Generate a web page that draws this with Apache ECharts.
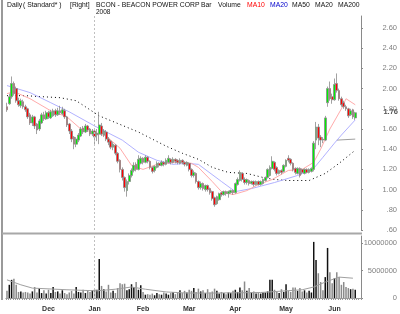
<!DOCTYPE html>
<html><head><meta charset="utf-8">
<script src="https://cdn.jsdelivr.net/npm/echarts@6/dist/echarts.min.js"></script>
<style>html,body{margin:0;padding:0;background:#fff}#c{width:400px;height:314px}</style>
</head><body><div id="c"></div>
<script>
// ---- data ----
const holidays = ['2007-11-22','2007-12-25','2008-01-01','2008-01-21','2008-02-18','2008-03-21','2008-05-26'];
const startDate = '2007-11-06', endDate = '2008-06-13';
const monthNames = ['Jan','Feb','Mar','Apr','May','Jun','Jul','Aug','Sep','Oct','Nov','Dec'];
const priceTicks = [0.6,0.8,1.0,1.2,1.4,1.6,1.8,2.0,2.2,2.4,2.6];
const volumeTicks = [0,5000000,10000000];
// [open, close, low, high]
const candles = [
[1.82,1.79,1.77,1.86],[1.85,1.92,1.84,1.95],[1.92,2.05,1.90,2.12],[2.05,1.95,1.93,2.07],[2.00,1.88,1.86,2.02],
[1.88,1.84,1.82,1.91],[1.83,1.88,1.81,1.90],[1.87,1.82,1.80,1.89],[1.82,1.79,1.77,1.84],[1.80,1.72,1.70,1.81],
[1.74,1.66,1.64,1.76],[1.66,1.72,1.63,1.74],[1.72,1.63,1.60,1.73],[1.65,1.59,1.55,1.66],[1.60,1.68,1.58,1.70],
[1.66,1.74,1.65,1.76],[1.74,1.70,1.68,1.77],[1.70,1.76,1.69,1.78],[1.76,1.72,1.70,1.78],[1.71,1.77,1.70,1.79],
[1.73,1.78,1.72,1.80],[1.78,1.74,1.72,1.80],[1.74,1.78,1.73,1.81],[1.78,1.76,1.74,1.83],[1.75,1.79,1.74,1.82],
[1.78,1.72,1.70,1.80],[1.72,1.64,1.62,1.73],[1.65,1.58,1.55,1.66],[1.58,1.50,1.47,1.60],[1.52,1.45,1.40,1.53],
[1.45,1.50,1.42,1.52],[1.49,1.54,1.47,1.56],[1.53,1.60,1.52,1.62],[1.61,1.57,1.55,1.63],[1.57,1.63,1.56,1.65],
[1.63,1.59,1.57,1.64],[1.60,1.55,1.53,1.61],[1.55,1.58,1.53,1.60],[1.58,1.52,1.44,1.59],[1.54,1.56,1.48,1.60],
[1.55,1.64,1.45,1.77],[1.63,1.55,1.53,1.66],[1.54,1.58,1.52,1.60],[1.57,1.50,1.48,1.59],[1.50,1.47,1.44,1.52],
[1.48,1.42,1.40,1.49],[1.42,1.45,1.39,1.47],[1.44,1.36,1.34,1.45],[1.36,1.28,1.26,1.37],[1.29,1.20,1.17,1.30],
[1.20,1.12,1.09,1.22],[1.12,1.02,0.98,1.13],[0.99,1.08,0.93,1.10],[1.08,1.14,1.05,1.16],[1.14,1.19,1.12,1.21],
[1.19,1.24,1.17,1.27],[1.25,1.20,1.18,1.27],[1.20,1.30,1.19,1.34],[1.26,1.31,1.25,1.33],[1.31,1.27,1.25,1.32],
[1.27,1.32,1.26,1.34],[1.32,1.28,1.26,1.33],[1.28,1.22,1.20,1.29],[1.22,1.18,1.16,1.23],[1.19,1.23,1.17,1.24],
[1.22,1.26,1.21,1.28],[1.26,1.24,1.22,1.27],[1.24,1.27,1.23,1.29],[1.27,1.25,1.23,1.28],[1.25,1.29,1.24,1.31],
[1.27,1.31,1.26,1.34],[1.30,1.27,1.25,1.31],[1.27,1.30,1.26,1.32],[1.30,1.28,1.26,1.31],[1.29,1.27,1.25,1.30],
[1.26,1.29,1.25,1.31],[1.29,1.27,1.25,1.30],[1.27,1.25,1.23,1.28],[1.24,1.27,1.23,1.28],[1.26,1.20,1.18,1.27],
[1.20,1.14,1.12,1.21],[1.14,1.17,1.12,1.19],[1.16,1.08,1.06,1.17],[1.08,1.02,1.00,1.09],[1.02,1.06,1.00,1.08],
[1.06,1.01,0.99,1.07],[1.00,1.04,0.98,1.05],[1.04,1.00,0.98,1.05],[1.01,0.97,0.95,1.02],[0.98,0.91,0.89,0.99],
[0.92,0.85,0.83,0.93],[0.86,0.93,0.85,0.94],[0.90,0.96,0.89,0.97],[0.97,0.95,0.93,0.98],[0.95,0.98,0.94,0.99],
[0.98,0.96,0.94,0.99],[0.96,0.98,0.92,0.99],[0.97,0.99,0.96,1.00],[0.99,0.97,0.95,1.00],[0.97,1.06,0.96,1.07],
[1.05,1.10,1.04,1.12],[1.09,1.17,1.08,1.19],[1.16,1.10,1.08,1.17],[1.10,1.07,1.05,1.12],[1.07,1.10,1.05,1.11],
[1.09,1.06,1.04,1.10],[1.06,1.08,1.05,1.09],[1.08,1.05,1.03,1.09],[1.05,1.08,1.04,1.09],[1.08,1.05,1.04,1.09],
[1.05,1.08,1.04,1.09],[1.06,1.10,1.05,1.11],[1.09,1.12,1.08,1.13],[1.12,1.20,1.11,1.21],[1.14,1.22,1.13,1.24],
[1.21,1.28,1.20,1.33],[1.27,1.20,1.18,1.28],[1.22,1.16,1.14,1.23],[1.16,1.19,1.15,1.20],[1.19,1.17,1.15,1.20],
[1.18,1.24,1.17,1.25],[1.23,1.29,1.22,1.30],[1.31,1.29,1.27,1.34],[1.30,1.26,1.24,1.31],[1.26,1.20,1.18,1.27],
[1.21,1.17,1.15,1.22],[1.16,1.21,1.15,1.22],[1.21,1.14,1.12,1.22],[1.20,1.17,1.15,1.21],[1.16,1.20,1.15,1.21],
[1.20,1.17,1.16,1.21],[1.17,1.20,1.16,1.21],[1.18,1.21,1.17,1.22],[1.20,1.46,1.18,1.48],[1.49,1.62,1.40,1.67],
[1.62,1.51,1.44,1.65],[1.52,1.49,1.42,1.54],[1.50,1.49,1.46,1.52],[1.49,1.71,1.48,1.73],[1.86,2.00,1.82,2.02],
[2.00,1.90,1.88,2.07],[1.92,1.89,1.85,1.95],[1.89,2.04,1.88,2.10],[2.05,1.98,1.96,2.15],[1.98,1.90,1.88,2.00],
[1.90,1.84,1.82,1.92],[1.86,1.82,1.80,1.88],[1.82,1.80,1.78,1.84],[1.80,1.73,1.71,1.81],[1.74,1.78,1.73,1.80],
[1.79,1.72,1.70,1.80],[1.71,1.76,1.69,1.77]
];
// volume in millions of shares
const volumeM = [
1.3,2.4,3.3,3.5,2.4,1.1,1.2,1.0,1.1,1.0,0.8,1.2,2.0,1.0,1.8,0.9,1.4,0.8,
1.5,0.9,2.0,1.1,1.2,0.8,1.4,0.9,0.7,1.0,1.3,0.8,2.0,1.1,1.0,1.5,0.9,1.3,1.1,1.4,
1.6,1.5,7.1,2.2,1.6,1.2,2.4,1.0,1.3,0.9,1.8,2.7,2.5,2.6,1.4,1.6,2.5,2.0,2.9,1.5,2.3,
1.1,0.6,0.7,0.6,0.8,0.5,0.9,0.7,0.6,1.0,0.8,0.6,0.9,1.1,0.7,1.0,1.4,0.9,1.3,1.0,
1.5,1.3,1.8,1.1,1.7,1.2,1.4,0.9,1.6,1.0,1.2,1.7,1.3,0.8,1.1,0.9,0.7,1.0,0.9,1.3,
1.5,1.1,1.9,1.4,3.0,1.3,1.8,1.0,1.2,0.8,0.9,0.8,1.0,1.0,1.2,3.3,3.3,1.5,1.1,0.9,1.6,1.1,
2.5,1.3,1.1,1.9,1.9,1.3,1.8,1.2,1.4,1.0,1.3,1.0,10.2,6.9,4.5,2.9,1.4,3.8,9.1,4.7,2.7,
3.6,4.7,3.8,2.4,2.9,2.0,1.8,1.6,1.7,1.5
];
// moving averages: [bar index, value]
const ma10 = [[0,1.95],[3,1.97],[10,1.90],[19,1.78],[26,1.72],[32,1.60],[37,1.57],[43,1.53],[49,1.41],[54,1.24],[59,1.20],[65,1.25],[73,1.27],[80,1.26],[83,1.22],[89,1.08],[93,0.98],[98,0.95],[104,0.99],[109,1.05],[115,1.10],[122,1.19],[128,1.20],[133,1.27],[136,1.40],[140,1.60],[145,1.80],[147,1.90],[151,1.84]];
const ma20 = [[0,2.03],[10,1.96],[19,1.86],[27,1.77],[38,1.63],[50,1.49],[57,1.37],[65,1.29],[72,1.25],[78,1.26],[83,1.25],[93,1.08],[99,0.98],[106,1.01],[116,1.07],[126,1.14],[133,1.21],[137,1.32],[142,1.46],[145,1.54],[151,1.69]];
const ma50 = [[0,1.93],[8,1.93],[15,1.92],[23,1.91],[30,1.88],[40,1.73],[57,1.57],[69,1.43],[76,1.36],[83,1.30],[89,1.22],[96,1.17],[104,1.16],[111,1.12],[116,1.10],[122,1.09],[131,1.09],[138,1.16],[144,1.26],[151,1.39]];
const ma200 = [[143,1.49],[151,1.50]];
const volMa20M = [[0,3.3],[6,2.4],[11,1.8],[26,1.5],[39,1.3],[47,1.6],[54,2.0],[60,1.6],[69,1.1],[78,0.9],[90,0.9],[110,1.0],[128,1.5],[133,2.0],[138,2.9],[144,3.8],[150,3.6]];

// ---- trading-day categories ----
const dates = [];
(function(){
  let d = new Date(startDate + 'T00:00:00Z'); const e = new Date(endDate + 'T00:00:00Z');
  while (d <= e) {
    const s = d.toISOString().slice(0,10), wd = d.getUTCDay();
    if (wd !== 0 && wd !== 6 && holidays.indexOf(s) < 0) dates.push(s);
    d = new Date(d.getTime() + 86400000);
  }
})();
const cats = dates.concat(['pad1','pad2']);
const monthStart = new Set();
for (let i = 1; i < dates.length; i++) if (dates[i].slice(5,7) !== dates[i-1].slice(5,7)) monthStart.add(i);
const yearIdx = dates.indexOf('2008-01-02');

const volData = volumeM.map((v,i)=>({value: v*1e6, itemStyle:{color: candles[i][1] >= candles[i][0] ? '#111' : '#8a8a8a'}}));
const volMa = volMa20M.map(p=>[p[0], p[1]*1e6]);

const FONT = '"Liberation Sans", Arial, sans-serif';
const GL = 5.84, GR = 38;

const chart = echarts.init(document.getElementById('c'), null, {renderer:'canvas'});
const titleParts = [
  [7,'Daily','#111'],[23,'( Standard* )','#111'],[70,'[Right]','#111'],[96,'BCON - BEACON POWER CORP','#111'],
  [201,'Bar','#111'],[218,'Volume','#111'],[247,'MA10','#ff0000'],[270,'MA20','#0000cc'],
  [292,'MA50','#111'],[315,'MA20','#111'],[338,'MA200','#111']
];
const graphics = titleParts.map(p=>({type:'text', left:p[0], top:2, silent:true,
  style:{text:p[1], fill:p[2], font:'6.8px ' + FONT}}));
graphics.push({type:'text', left:96, top:9, silent:true, style:{text:'2008', fill:'#111', font:'6.5px ' + FONT}});
graphics.push({type:'rect', shape:{x:1,y:0,width:2,height:300}, style:{fill:'#9a9a9a'}, silent:true});
graphics.push({type:'rect', shape:{x:2,y:232.5,width:360,height:2}, style:{fill:'#a8a8a8'}, silent:true});

const axisLabelStyle = {color:'#808080', fontSize:7.5, fontFamily:FONT, align:'right', margin:36};

chart.setOption({
  animation:false,
  backgroundColor:'#fff',
  grid:[
    {left:GL, right:GR, top:16, height:214},
    {left:GL, right:GR, top:236, height:62}
  ],
  xAxis:[
    {type:'category', gridIndex:0, data:cats, boundaryGap:true, axisLine:{show:false}, axisTick:{show:false}, axisLabel:{show:false}, splitLine:{show:false}},
    {type:'category', gridIndex:1, data:cats, boundaryGap:true,
      axisLine:{show:true, lineStyle:{color:'#9a9a9a', width:1}},
      axisTick:{show:true, interval:0, length:2, lineStyle:{color:'#9a9a9a'}},
      axisLabel:{show:true, interval:(i)=>monthStart.has(i), formatter:(v)=>monthNames[+v.slice(5,7)-1],
        color:'#333', fontSize:7, fontWeight:'bold', fontFamily:FONT, margin:8},
      splitLine:{show:false}}
  ],
  yAxis:[
    {type:'value', gridIndex:0, position:'right', min:0.6, max:0.6+214/101, interval:0.2,
      axisLine:{show:true, lineStyle:{color:'#8a8a8a'}}, axisTick:{show:true, length:2, lineStyle:{color:'#8a8a8a'}},
      splitLine:{show:false},
      axisLabel:Object.assign({}, axisLabelStyle, {showMaxLabel:false, formatter:(v)=> v < 0.99 ? '.' + Math.round(v*100) : v.toFixed(2)})},
    {type:'value', gridIndex:1, position:'right', min:0, max:62/5.5*1e6, interval:5000000,
      axisLine:{show:true, lineStyle:{color:'#8a8a8a'}}, axisTick:{show:true, length:2, lineStyle:{color:'#8a8a8a'}},
      splitLine:{show:false},
      axisLabel:Object.assign({}, axisLabelStyle, {showMaxLabel:false, formatter:(v)=>String(Math.round(v))})}
  ],
  graphic:graphics,
  series:[
    {type:'line', name:'MA50', xAxisIndex:0, yAxisIndex:0, data:ma50, showSymbol:false, connectNulls:true,
      lineStyle:{color:'#000', width:1, type:[1,3]}, z:2},
    {type:'line', name:'MA200', xAxisIndex:0, yAxisIndex:0, data:ma200, showSymbol:false,
      lineStyle:{color:'#a0a0a0', width:1}, z:2},
    {type:'line', name:'MA20', xAxisIndex:0, yAxisIndex:0, data:ma20, showSymbol:false,
      lineStyle:{color:'#a8a8ff', width:0.9}, z:2},
    {type:'line', name:'MA10', xAxisIndex:0, yAxisIndex:0, data:ma10, showSymbol:false,
      lineStyle:{color:'#ffa0a0', width:0.9}, z:2},
    {type:'candlestick', name:'BCON', xAxisIndex:0, yAxisIndex:0, data:candles, barWidth:2.2,
      itemStyle:{color:'#00f000', color0:'#ff0000', borderColor:'#8a8a8a', borderColor0:'#8a8a8a', borderWidth:0.8}, z:3,
      markLine:{silent:true, symbol:'none', label:{show:false}, lineStyle:{color:'#c0c0c0', type:[2,2], width:1},
        data:[{xAxis:yearIdx}]}},
    {type:'bar', name:'Volume', xAxisIndex:1, yAxisIndex:1, data:volData, barWidth:1.5,
      markLine:{silent:true, symbol:'none', label:{show:false}, lineStyle:{color:'#c0c0c0', type:[2,2], width:1},
        data:[{xAxis:yearIdx}]}},
    {type:'line', name:'VolMA20', xAxisIndex:1, yAxisIndex:1, data:volMa, showSymbol:false,
      lineStyle:{color:'#a0a0a0', width:1}, z:3}
  ]
});

// last-close label on the price axis
const lastClose = candles[candles.length-1][1];
const yPix = chart.convertToPixel({yAxisIndex:0}, lastClose);
graphics.push({type:'text', right:2, top:yPix-4.5, silent:true,
  style:{text:lastClose.toFixed(2), fill:'#555', font:'bold 7.5px ' + FONT}});
chart.setOption({graphic:graphics});
</script></body></html>
